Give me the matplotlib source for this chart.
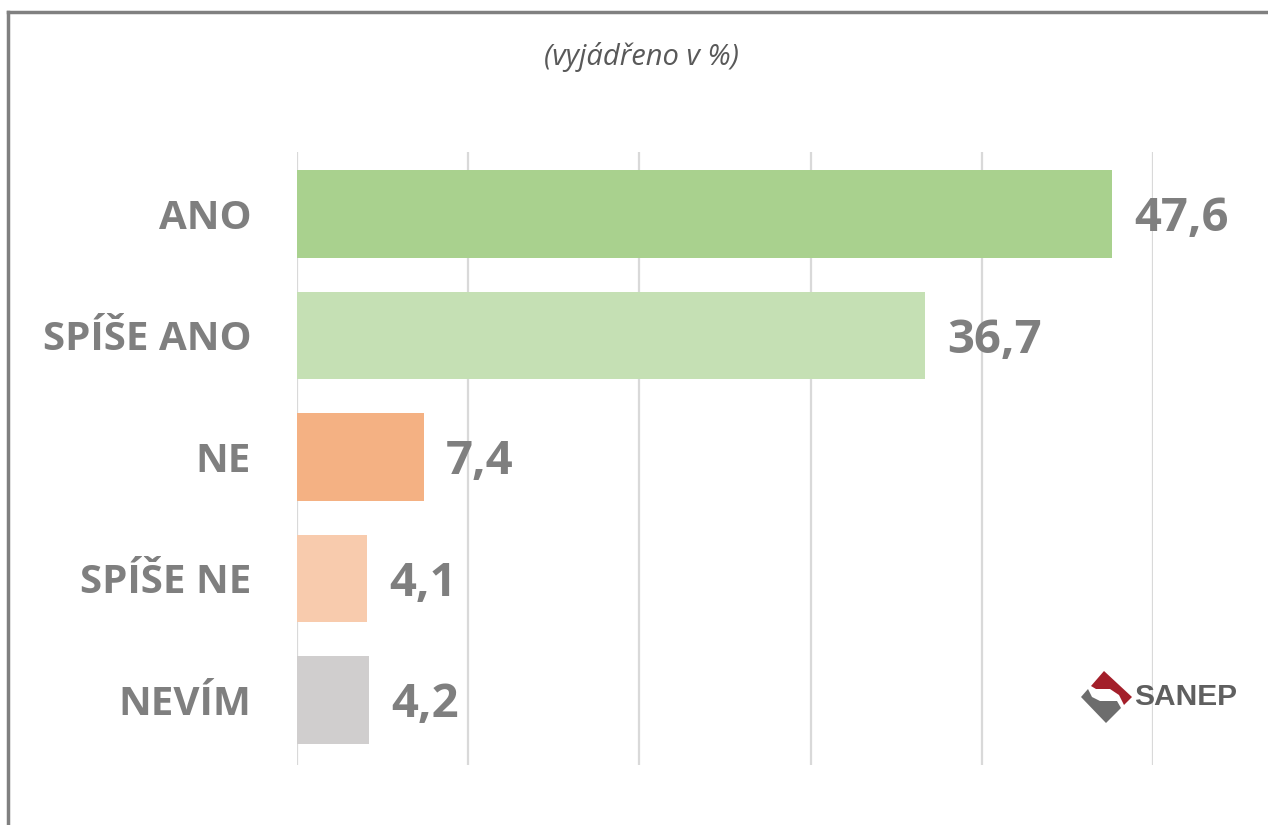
import matplotlib.pyplot as plt
from matplotlib.patches import Polygon
from matplotlib.lines import Line2D

categories = ["ANO", "SPÍŠE ANO", "NE", "SPÍŠE NE", "NEVÍM"]
values = [47.6, 36.7, 7.4, 4.1, 4.2]
colors = ["#a9d18e", "#c5e0b4", "#f4b183", "#f8cbad", "#d0cece"]

plt.rcParams['font.family'] = ['Open Sans', 'DejaVu Sans']

fig = plt.figure(figsize=(12.68, 8.25), dpi=100)
ax = fig.add_axes([297 / 1268, 1 - 765 / 825, (1153 - 297) / 1268, (765 - 152) / 825])

pos = list(range(len(categories)))
ax.barh(pos, values, height=0.72, color=colors, zorder=2)
ax.set_xlim(0, 50)
ax.set_ylim(4.535, -0.51)
ax.set_xticks([0, 10, 20, 30, 40, 50])
ax.grid(axis='x', color='#d9d9d9', linewidth=1.6, zorder=0)
ax.tick_params(axis='x', length=0, labelbottom=False)
ax.tick_params(axis='y', length=0, pad=33)
ax.set_yticks(pos)
ax.set_yticklabels(categories, fontsize=29, fontweight='bold', color='#7f7f7f')
for s in ax.spines.values():
    s.set_visible(False)

for p, v in zip(pos, values):
    ax.text(v + 1.3, p + 0.04, f"{v:.1f}".replace(".", ","), va='center', ha='left',
            fontsize=34, fontweight='bold', color='#7f7f7f')

fig.text(641 / 1268, 1 - 57 / 825, "(vyjádřeno v %)", ha='center', va='center',
         fontsize=21, style='italic', color='#595959')

# frame lines at top and left
fig.add_artist(Line2D([7.5 / 1268, 1], [1 - 11.5 / 825] * 2, color='#808080', lw=2.5))
fig.add_artist(Line2D([7.5 / 1268] * 2, [0, 1 - 11.5 / 825], color='#808080', lw=2.5))

# SANEP logo
def fx(x):
    return x / 1268

def fy(y):
    return 1 - y / 825

red = [(1091, 686), (1104, 671), (1132, 697), (1124, 705), (1119, 695), (1110, 689), (1096, 689)]
grey = [(1081, 697), (1088, 689), (1092, 697), (1100, 701), (1117, 701), (1121, 708), (1106, 723)]
fig.add_artist(Polygon([(fx(x), fy(y)) for x, y in red], closed=True, color='#a31f2a', lw=0))
fig.add_artist(Polygon([(fx(x), fy(y)) for x, y in grey], closed=True, color='#6d6d6d', lw=0))
fig.text(fx(1134), fy(697), "SANEP", ha='left', va='center', fontsize=21.5,
         fontweight='bold', color='#5f5f5f', family=['Liberation Sans', 'DejaVu Sans'])

fig.savefig("out.png", dpi=100, facecolor='white')
